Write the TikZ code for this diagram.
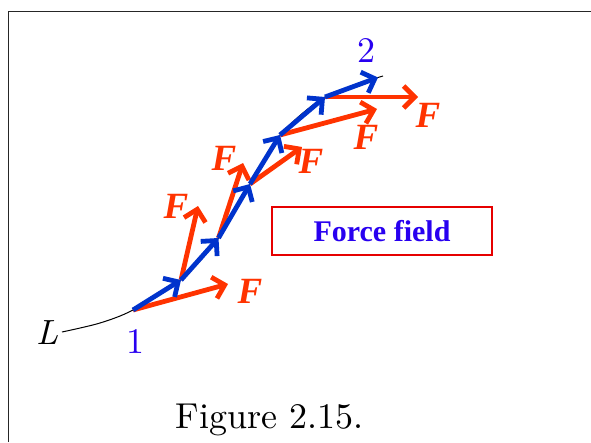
\documentclass[tikz,border=0pt]{standalone}
\usepackage{fontspec}
\newfontfamily\tnr{Liberation Serif}
\newfontfamily\lmten{lmroman10-regular}[Extension=.otf]
\newfontfamily\lmtenit{lmroman10-italic}[Extension=.otf]
\usetikzlibrary{arrows.meta}
\definecolor{vblue}{RGB}{0,51,204}
\definecolor{vred}{RGB}{255,51,0}
\definecolor{lblue}{RGB}{40,0,240}
\definecolor{boxred}{RGB}{230,0,0}
\tikzset{
  vecbase/.style={line width=4.8pt, -{Straight Barb[length=11pt,width=22pt]}},
  bluevec/.style={vecbase, draw=vblue},
  redvec/.style={vecbase, draw=vred},
  flabel/.style={text=vred, font=\tnr\bfseries\itshape\fontsize{37}{37}\selectfont, inner sep=0pt},
  numlabel/.style={text=lblue, font=\lmten\fontsize{36}{36}\selectfont, inner sep=0pt},
  fieldbox/.style={draw=boxred, line width=2.4pt, minimum width=220pt, minimum height=48pt,
    text=lblue, font=\tnr\bfseries\fontsize{30}{32}\selectfont},
  pathline/.style={line width=1pt, black},
  frameline/.style={line width=1.5pt, black!85}
}
\begin{document}
\begin{tikzpicture}[x=1pt,y=-1pt]
\useasboundingbox (0,0) rectangle (591,442);
% frame
\coordinate (fbl) at (8.5,442);
\coordinate (ftl) at (8.5,11.5);
\coordinate (ftr) at (591,11.5);
\draw[frameline] (fbl) -- (ftl) -- (ftr);
% path points
\coordinate (L0) at (62,332);
\coordinate (Lm) at (100,323);
\coordinate (P1) at (133,310);
\coordinate (P2) at (181,280);
\coordinate (P3) at (218.5,238);
\coordinate (P4) at (250,184);
\coordinate (P5) at (280,135);
\coordinate (P6) at (325,97);
\coordinate (P7) at (383,76);
\coordinate (B6) at (378,77.5);
\draw[pathline] plot[smooth, tension=0.5] coordinates {(L0) (Lm) (P1) (P2) (P3) (P4) (P5) (P6) (P7)};
% force tips
\coordinate (R1) at (228,284);
\coordinate (R2) at (198,206);
\coordinate (R3) at (243,163);
\coordinate (R4) at (302,147);
\coordinate (R5) at (377,109);
\coordinate (R6) at (418,97);
% red force vectors
\draw[redvec] (P1) -- (R1);
\draw[redvec] (P2) -- (R2);
\draw[redvec] (P3) -- (R3);
\draw[redvec] (P4) -- (R4);
\draw[redvec] (P5) -- (R5);
\draw[redvec] (P6) -- (R6);
% blue displacement vectors
\draw[bluevec] (P1) -- (P2);
\draw[bluevec] (P2) -- (P3);
\draw[bluevec] (P3) -- (P4);
\draw[bluevec] (P4) -- (P5);
\draw[bluevec] (P5) -- (P6);
\draw[bluevec] (P6) -- (B6);
% labels
\node[flabel] (F1) at (250,291) {F};
\node[flabel] (F2) at (176,206) {F};
\node[flabel] (F3) at (224,158) {F};
\node[flabel] (F4) at (311,161) {F};
\node[flabel] (F5) at (366,137) {F};
\node[flabel] (F6) at (428,115) {F};
\node[numlabel] (n1) at (135,342) {1};
\node[numlabel] (n2) at (366,51) {2};
\node[inner sep=0pt, font=\lmtenit\fontsize{35}{35}\selectfont] (Lab) at (47,333) {L};
\node[fieldbox] (ff) at (382,231) {Force field};
\node[inner sep=0pt, anchor=base, font=\lmten\fontsize{36}{36}\selectfont] (cap) at (269.5,428) {Figure 2.15.};
\end{tikzpicture}
\end{document}
